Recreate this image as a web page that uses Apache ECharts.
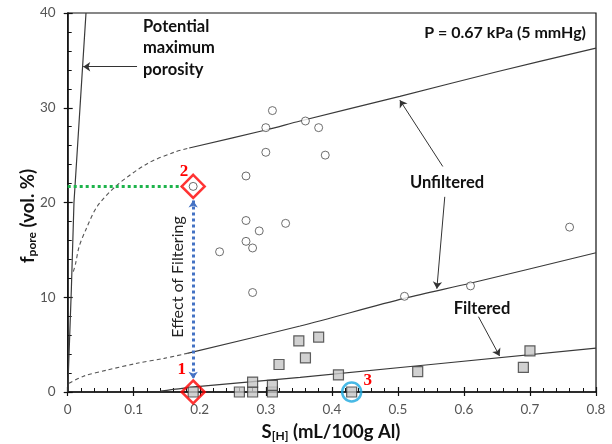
<!DOCTYPE html>
<html>
<head>
<meta charset="utf-8">
<script src="https://cdn.jsdelivr.net/npm/echarts@6/dist/echarts.min.js"></script>
<style>
html, body { margin: 0; padding: 0; background: #fff; }
#main { width: 612px; height: 444px; }
</style>
</head>
<body>
<div id="main"></div>
<script>
// tick labels
var xTickLabels = ['0', '0.1', '0.2', '0.3', '0.4', '0.5', '0.6', '0.7', '0.8'];
var yTickLabels = ['0', '10', '20', '30', '40'];

// measured points: [S_H, f_pore]
var unfilteredPts = [[0.19, 21.7], [0.23, 14.8], [0.27, 22.8], [0.27, 18.1], [0.27, 15.9], [0.28, 15.2],
    [0.28, 10.5], [0.29, 17.0], [0.30, 27.9], [0.30, 25.3], [0.31, 29.7], [0.33, 17.8], [0.36, 28.6],
    [0.38, 27.9], [0.39, 25.0], [0.51, 10.1], [0.61, 11.2], [0.76, 17.4]];
var filteredPts = [[0.19, 0], [0.26, 0], [0.28, 0], [0.28, 1.05], [0.31, 0], [0.31, 0.7], [0.32, 2.9],
    [0.35, 5.4], [0.36, 3.6], [0.38, 5.8], [0.41, 1.8], [0.43, 0], [0.53, 2.15], [0.69, 2.6], [0.70, 4.35]];
var markedPts = [[0.19, 21.7], [0.19, 0]];
var circledPt = [[0.43, 0]];

// fitted curves
var maxPorosityLine = [[0, 0], [0.0055, 10.8], [0.0095, 20], [0.0186, 30], [0.0277, 40]];
var upperDash = [[0.0085, 12.7], [0.0121, 13.6], [0.0171, 15.3], [0.0273, 17.1], [0.0448, 19.6], [0.0751, 21.85], [0.1205, 24.1], [0.161, 25.3], [0.184, 25.75]];
var upperSolid = [[0.184, 25.75], [0.30, 27.65], [0.352, 28.6], [0.503, 31.2], [0.65, 33.8], [0.8, 36.3]];
var lowerDash = [[0.002, 0.92], [0.0247, 1.69], [0.06, 2.32], [0.105, 3.03], [0.146, 3.55], [0.181, 4.08]];
var lowerSolid = [[0.181, 4.08], [0.352, 6.97], [0.511, 9.9], [0.611, 11.5], [0.8, 14.7]];
var filteredLine = [[0.14, 0.1], [0.2, 0.6], [0.352, 1.55], [0.8, 4.64]];

var chart = echarts.init(document.getElementById('main'));
var font = 'Lato, "Open Sans", sans-serif';

function curve(data, dashed, smooth) {
    return {
        type: 'line', data: data, symbol: 'none', smooth: smooth, silent: true, z: 2,
        lineStyle: { color: dashed ? '#555' : '#3a3a3a', width: dashed ? 1.1 : 1.2, type: dashed ? [4, 3] : 'solid' }
    };
}
function arrow(from, to, sym0, sym1, style) {
    return [{ coord: from, symbol: sym0, lineStyle: style }, { coord: to, symbol: sym1 }];
}
var blk = { color: '#333', width: 1, type: 'solid' };

var option = {
    animation: false,
    grid: { left: 67.7, right: 16, top: 13, bottom: 52, show: true, borderColor: '#111', borderWidth: 1.2 },
    xAxis: [{
        type: 'value', min: 0, max: 0.8, interval: 0.1,
        axisLine: { lineStyle: { color: '#111', width: 1.5 } },
        axisTick: { inside: true, length: 5, lineStyle: { color: '#111', width: 1.2 } },
        minorTick: { show: true, splitNumber: 5, length: 4, lineStyle: { color: '#111', width: 1 } },
        splitLine: { show: false },
        axisLabel: { margin: 11, color: '#555', fontSize: 13.5, fontFamily: font,
            formatter: function (v) { return xTickLabels[Math.round(v * 10)]; } }
    }, {
        type: 'value', min: 0, max: 0.8, interval: 0.1, position: 'bottom',
        axisLine: { show: false }, axisLabel: { show: false }, splitLine: { show: false },
        axisTick: { inside: false, length: 4, lineStyle: { color: '#111', width: 1.2 } }
    }],
    yAxis: [{
        type: 'value', min: 0, max: 40, interval: 10,
        axisLine: { lineStyle: { color: '#111', width: 1.5 } },
        axisTick: { inside: true, length: 5, lineStyle: { color: '#111', width: 1.2 } },
        minorTick: { show: true, splitNumber: 5, length: 4, lineStyle: { color: '#111', width: 1 } },
        splitLine: { show: false },
        axisLabel: { margin: 12, color: '#555', fontSize: 13.5, fontFamily: font,
            formatter: function (v) { return yTickLabels[Math.round(v / 10)]; } }
    }, {
        type: 'value', min: 0, max: 40, interval: 10, position: 'left',
        axisLine: { show: false }, axisLabel: { show: false }, splitLine: { show: false },
        axisTick: { inside: false, length: 4, lineStyle: { color: '#111', width: 1.2 } }
    }],
    series: [
        curve(maxPorosityLine, false, false),
        curve(upperDash, true, 0.3),
        curve(upperSolid, false, 0.3),
        curve(lowerDash, true, 0.3),
        curve(lowerSolid, false, 0.3),
        curve(filteredLine, false, 0.3),
        {
            type: 'scatter', data: unfilteredPts, symbol: 'circle', symbolSize: 8, z: 4,
            itemStyle: { color: '#fff', borderColor: '#4a4a4a', borderWidth: 1 }
        },
        {
            type: 'scatter', data: filteredPts, symbol: 'rect', symbolSize: 10, z: 4,
            itemStyle: { color: '#c6c6c6', borderColor: '#3a3a3a', borderWidth: 1.2 }
        },
        {
            type: 'scatter', data: markedPts, symbol: 'diamond', symbolSize: 23, z: 6,
            itemStyle: { color: 'rgba(0,0,0,0)', borderColor: '#ff0000', borderWidth: 2.5 }
        },
        {
            type: 'scatter', data: circledPt, symbol: 'circle', symbolSize: 19, z: 6,
            itemStyle: { color: 'rgba(0,0,0,0)', borderColor: '#1aa7df', borderWidth: 2.5 }
        },
        {
            type: 'line', data: [], z: 5,
            markLine: {
                silent: true, animation: false, symbolSize: 7,
                label: { show: false },
                data: [
                    arrow([0.105, 34.33], [0.0235, 34.33], 'none', 'arrow', blk),
                    arrow([0.568, 23.8], [0.503, 30.8], 'none', 'arrow', blk),
                    arrow([0.571, 20.6], [0.559, 10.9], 'none', 'arrow', blk),
                    arrow([0.622, 7.95], [0.654, 3.8], 'none', 'arrow', blk),
                    arrow([0, 21.7], [0.173, 21.7], 'none', 'none', { color: '#1db34b', width: 3, type: [3, 3] }),
                    arrow([0.19, 20.2], [0.19, 1.4], 'arrow', 'arrow', { color: '#4472c4', width: 3, type: [3, 3] })
                ]
            }
        }
    ],
    graphic: [
        { type: 'text', x: 586, y: 33, style: { text: 'P = 0.67 kPa (5 mmHg)', align: 'right', verticalAlign: 'middle',
            font: 'bold 16px ' + font, fill: '#111' } },
        { type: 'text', x: 143, y: 48, style: { text: 'Potential\nmaximum\nporosity', align: 'left', verticalAlign: 'middle',
            font: 'bold 16.5px ' + font, lineHeight: 21.5, fill: '#111' } },
        { type: 'text', x: 447, y: 183, style: { text: 'Unfiltered', align: 'center', verticalAlign: 'middle',
            font: 'bold 16.5px ' + font, fill: '#111' } },
        { type: 'text', x: 482, y: 309, style: { text: 'Filtered', align: 'center', verticalAlign: 'middle',
            font: 'bold 16.5px ' + font, fill: '#111' } },
        { type: 'text', x: 178, y: 277, rotation: Math.PI / 2, style: { text: 'Effect of Filtering', align: 'center', verticalAlign: 'middle',
            font: '16px ' + font, fill: '#222' } },
        { type: 'text', x: 184, y: 172, style: { text: '2', align: 'center', verticalAlign: 'middle',
            font: 'bold 17px "Liberation Serif", serif', fill: '#ff0000' } },
        { type: 'text', x: 181.7, y: 370, style: { text: '1', align: 'center', verticalAlign: 'middle',
            font: 'bold 17px "Liberation Serif", serif', fill: '#ff0000' } },
        { type: 'text', x: 367.7, y: 381, style: { text: '3', align: 'center', verticalAlign: 'middle',
            font: 'bold 17px "Liberation Serif", serif', fill: '#ff0000' } },
        { type: 'text', x: 28, y: 216, rotation: Math.PI / 2, style: {
            text: '{b|f}{s|pore}{b| (vol. %)}', align: 'center', verticalAlign: 'middle',
            rich: {
                b: { font: 'bold 18.5px ' + font, fill: '#111', lineHeight: 22 },
                s: { font: 'bold 12px ' + font, fill: '#111', lineHeight: 22, padding: [8, 0, 0, 0] }
            } } },
        { type: 'text', x: 331, y: 432, style: {
            text: '{b|S}{s|[H]}{b| (mL/100g Al)}', align: 'center', verticalAlign: 'middle',
            rich: {
                b: { font: 'bold 18.5px ' + font, fill: '#111', lineHeight: 22 },
                s: { font: 'bold 12px ' + font, fill: '#111', lineHeight: 22, padding: [8, 0, 0, 0] }
            } } }
    ]
};
chart.setOption(option);
</script>
</body>
</html>
